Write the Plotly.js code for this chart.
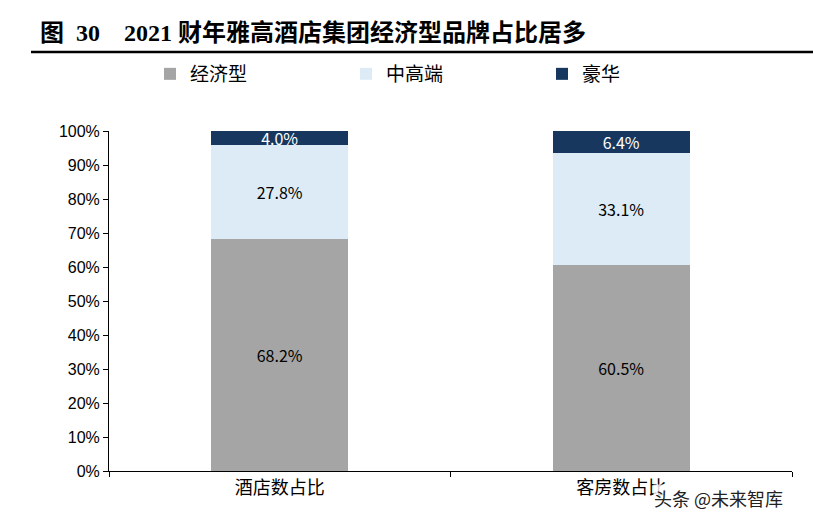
<!DOCTYPE html>
<html>
<head>
<meta charset="utf-8">
<script src="https://cdn.plot.ly/plotly-3.0.1.min.js"></script>
<style>html,body{margin:0;padding:0;background:#fff;}#chart{width:813px;height:522px;}</style>
</head>
<body>
<div id="chart"></div>
<script>
const categories = ['酒店数占比', '客房数占比'];
const economy = [68.2, 60.5];
const midHigh = [27.8, 33.1];
const luxury = [4.0, 6.4];
const seriesNames = ['经济型', '中高端', '豪华'];
const yTickVals = [0, 10, 20, 30, 40, 50, 60, 70, 80, 90, 100];

const W = 813, H = 522, L = 109, R = 21, T = 131, B = 51;
const PW = W - L - R, PH = H - T - B;
const px = x => (x - L) / PW;
const py = y => (H - B - y) / PH;

const labelFont = 'Noto Sans CJK SC, DejaVu Sans, sans-serif';
function bar(name, vals, color, textColor) {
  return {
    type: 'bar', name: name, x: categories, y: vals,
    marker: {color: color, line: {width: 0}},
    width: 0.40,
    text: vals.map(v => v.toFixed(1) + '%'),
    textposition: 'inside', insidetextanchor: 'middle',
    constraintext: 'none',
    textfont: {family: labelFont, size: 16, color: textColor},
    hoverinfo: 'skip'
  };
}
const data = [
  bar(seriesNames[0], economy, '#A5A5A5', '#000000'),
  bar(seriesNames[1], midHigh, '#DDEBF7', '#000000'),
  bar(seriesNames[2], luxury, '#17375E', '#FFFFFF')
];

const layout = {
  width: W, height: H,
  margin: {l: L, r: R, t: T, b: B, autoexpand: false},
  paper_bgcolor: '#fff', plot_bgcolor: '#fff',
  barmode: 'stack',
  showlegend: true,
  title: {
    text: '<b>图\u00a0\u00a030\u00a0\u00a0\u00a0\u00a02021\u00a0财年雅高酒店集团经济型品牌占比居多</b>',
    font: {family: 'Liberation Serif, Noto Sans CJK SC, serif', size: 24, color: '#000'},
    xref: 'container', yref: 'container', x: 40 / W, xanchor: 'left',
    y: 1 - 33 / H, yanchor: 'middle'
  },
  legend: {
    orientation: 'h', x: px(150), xref: 'paper', xanchor: 'left',
    y: py(74), yanchor: 'middle',
    entrywidth: 151, entrywidthmode: 'pixels',
    font: {family: 'Noto Sans CJK SC, sans-serif', size: 19, color: '#000'},
    traceorder: 'normal', itemclick: false
  },
  xaxis: {
    type: 'category', showline: true, linecolor: '#000', linewidth: 1,
    ticks: 'outside', tickson: 'boundaries', ticklen: 5, tickcolor: '#000',
    tickfont: {family: 'Noto Sans CJK SC, sans-serif', size: 18, color: '#000'},
    showgrid: false, zeroline: false, fixedrange: true
  },
  yaxis: {
    range: [0, 100], tickvals: yTickVals, ticktext: yTickVals.map(v => v + '%'),
    showline: true, linecolor: '#000', linewidth: 1,
    ticks: 'outside', ticklen: 5, tickcolor: '#000',
    tickfont: {family: 'Liberation Sans, Arial, sans-serif', size: 16, color: '#000'},
    showgrid: false, zeroline: false, fixedrange: true
  },
  shapes: [{
    type: 'line', xref: 'paper', yref: 'paper',
    x0: px(31), x1: px(813), y0: py(52), y1: py(52),
    line: {color: '#000', width: 2.5}
  }],
  annotations: [{
    text: '头条 @未来智库', xref: 'paper', yref: 'paper',
    x: px(784), xanchor: 'right', y: py(498), yanchor: 'middle',
    showarrow: false, bgcolor: 'rgba(255,255,255,0.8)', borderpad: 0,
    font: {family: 'Noto Sans CJK SC, sans-serif', size: 18, color: '#222'}
  }]
};
Plotly.newPlot('chart', data, layout, {displayModeBar: false, staticPlot: true});
</script>
</body>
</html>
